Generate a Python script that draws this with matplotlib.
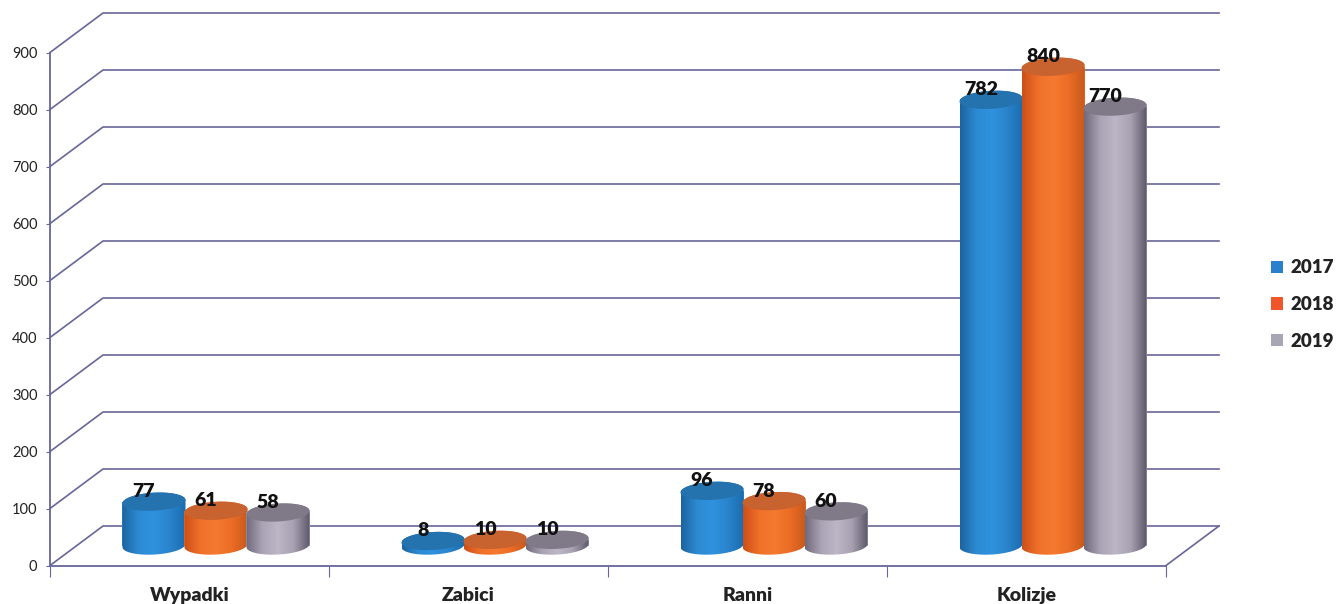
import matplotlib; matplotlib.use("Agg")
import matplotlib.pyplot as plt
import numpy as np
from matplotlib.colors import LinearSegmentedColormap
from matplotlib.patches import Patch, Polygon

categories = ['Wypadki', 'Zabici', 'Ranni', 'Kolizje']
years = ['2017', '2018', '2019']
v2017 = [77, 8, 96, 782]
v2018 = [61, 10, 78, 840]
v2019 = [58, 10, 60, 770]
yticks = list(range(0, 1000, 100))

plt.rcParams['font.family'] = ['Lato', 'DejaVu Sans']
W, H = 1336, 604
LINE = "#66669a"
BOLD = 800

# body gradient left->right, top cap, legend swatch
body = [['#1c64a0', '#2c8ad2', '#2f92de', '#2a84cc', '#1a6cae'],
        ['#cc4f18', '#f0702a', '#f57a30', '#ec6c26', '#c85a1c'],
        ['#6f6a7c', '#aaa3b4', '#bdb6c6', '#a8a1b2', '#5e5a6a']]
caps = ['#2472ae', '#c8622e', '#7f7988']
swatch = ['#2a80cc', '#f0562a', '#a8a5b5']

fig = plt.figure(figsize=(W / 100, H / 100), dpi=100)
ax = fig.add_axes([50 / W, 1 - 565.5 / H, 1116 / W, 513 / H])
ax.set_xlim(0, 4); ax.set_ylim(0, 900)

# depth of the fake 3d box, in data units
dx, dy = 53 / 279, 39.5 / 0.57
# cylinders stand halfway into the box
cx, cy = dx / 2, 35
bw = 63 / 279
rx, ry = bw / 2, 9 / 0.57
tilt = 0.18


def ellipse(xc, yc, t):
    # ellipse outline in data units, tilted slightly up to the right
    x = rx * np.cos(t)
    return xc + x, yc + ry * np.sin(t) + tilt * (x / rx) * ry


# back wall + left side wall + floor
for v in yticks:
    ax.plot([0, dx, 4 + dx], [v, v + dy, v + dy], color=LINE, lw=1.2,
            clip_on=False, zorder=1)
ax.plot([4, 4 + dx], [0, dy], color=LINE, lw=1.2, clip_on=False, zorder=1)

for s, vals in enumerate([v2017, v2018, v2019]):
    cmap = LinearSegmentedColormap.from_list('c%d' % s, body[s])
    for i, v in enumerate(vals):
        xc = i + 0.5 + cx + (s - 1) * 62 / 279
        z = 3 + s
        ax.bar(xc, v, bw, bottom=cy, color=body[s][1], lw=0, zorder=z, clip_on=False)
        # outline of the body for the gradient clip
        xb, yb = ellipse(xc, cy, np.linspace(np.pi, 2 * np.pi, 50))
        xt, yt = ellipse(xc, cy + v, np.linspace(0, np.pi, 50))
        outline = Polygon(np.c_[np.r_[xb, xt], np.r_[yb, yt]], closed=True,
                          transform=ax.transData)
        im = ax.imshow(np.linspace(0, 1, 64).reshape(1, -1), cmap=cmap, aspect='auto',
                       extent=(xc - rx, xc + rx, cy - 2 * ry, cy + v + 2 * ry), zorder=z)
        im.set_clip_path(outline)
        xe, ye = ellipse(xc, cy + v, np.linspace(0, 2 * np.pi, 80))
        ax.fill(xe, ye, color=caps[s], lw=0, zorder=z + 0.1, clip_on=False)
        ax.annotate(str(v), (xc, cy + v), xytext=(-10, 10), textcoords='offset pixels',
                    ha='center', va='center', fontsize=14, fontweight=BOLD,
                    color='#111111', zorder=10, annotation_clip=False)

ax.set_xlim(0, 4); ax.set_ylim(0, 900)
ax.spines['top'].set_visible(False); ax.spines['right'].set_visible(False)
for sp in ['left', 'bottom']:
    ax.spines[sp].set_color(LINE); ax.spines[sp].set_linewidth(1.3)
ax.set_yticks(yticks)
ax.tick_params(axis='y', length=3, color=LINE, labelsize=10.5, labelcolor='#222222', pad=6)
ax.set_xticks(range(5)); ax.set_xticklabels([])
ax.tick_params(axis='x', which='major', length=8, color=LINE)
ax.set_xticks(np.arange(4) + 0.5, minor=True)
ax.set_xticklabels(categories, minor=True, fontsize=14, fontweight=BOLD, color='#222222')
ax.tick_params(axis='x', which='minor', length=0, pad=15.5)
ax.patch.set_visible(False)

handles = [Patch(facecolor=c, lw=0) for c in swatch]
fig.legend(handles, years, loc='center left', bbox_to_anchor=(1271 / W, 1 - 304.5 / H),
           frameon=False, prop={'weight': BOLD, 'size': 13.5}, handlelength=0.64,
           handleheight=0.64, handletextpad=0.38, labelspacing=1.05, borderpad=0,
           borderaxespad=0, labelcolor='#222222')

fig.savefig("out.png", dpi=100)
